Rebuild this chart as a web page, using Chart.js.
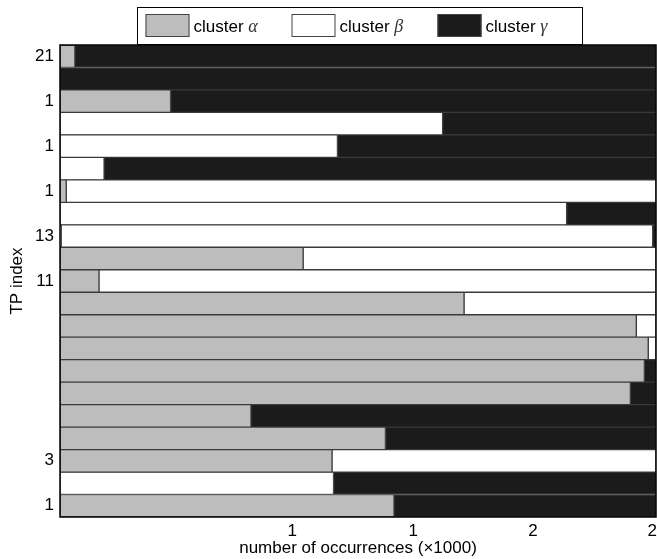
<!DOCTYPE html>
<html>
<head>
<meta charset="utf-8">
<script src="https://cdn.jsdelivr.net/npm/chart.js@4.4.1/dist/chart.umd.min.js"></script>
<style>
  html, body { margin: 0; padding: 0; background: #fff; }
  #wrap { width: 657px; height: 559px; position: relative; }
</style>
</head>
<body>
<div id="wrap"><canvas id="chart"></canvas></div>
<script>
// TP rows, top to bottom (only some rows carry a label)
const tpLabels = ['21', '', '1', '', '1', '', '1', '', '13', '', '11', '', '', '', '', '', '', '', '3', '', '1'];

// number of occurrences (x1000) per cluster
const alphaVals = [0.050, 0, 0.371, 0, 0, 0, 0.021, 0, 0.004, 0.816, 0.131, 1.356, 1.934, 1.974, 1.961, 1.914, 0.641, 1.092, 0.913, 0, 1.121];
const betaVals  = [0, 0, 0, 1.284, 0.931, 0.148, 1.979, 1.700, 1.985, 1.184, 1.869, 0.644, 0.066, 0.026, 0, 0, 0, 0, 1.087, 0.918, 0];
const gammaVals = [1.950, 2.0, 1.629, 0.716, 1.069, 1.852, 0, 0.300, 0.011, 0, 0, 0, 0, 0, 0.039, 0.086, 1.359, 0.908, 0, 1.082, 0.879];

const seriesNames = ['cluster α', 'cluster β', 'cluster γ'];
const seriesColors = ['#bdbdbd', '#ffffff', '#1b1b1b'];

const xMax = 2.0;
const xTickVals = [0.779, 1.185, 1.587, 1.987];

const FONT = '"Liberation Sans", Arial, sans-serif';

// legend drawn by hand so the greek letter can be in italic serif
const legendPlugin = {
  id: 'boxLegend',
  afterDraw(chart) {
    const ctx = chart.ctx;
    const left = 137.5, top = 7.5, w = 445, h = 37;
    ctx.save();
    ctx.fillStyle = '#fff';
    ctx.fillRect(left, top, w, h);
    ctx.strokeStyle = '#000';
    ctx.lineWidth = 1;
    ctx.strokeRect(left, top, w, h);
    seriesNames.forEach((name, i) => {
      const x = left + 8 + i * 146;
      ctx.fillStyle = seriesColors[i];
      ctx.fillRect(x, 14, 44, 23);
      ctx.strokeStyle = '#444';
      ctx.strokeRect(x + 0.5, 14.5, 43, 22);
      const word = name.slice(0, -1);
      const greek = name.slice(-1);
      ctx.fillStyle = '#000';
      ctx.textBaseline = 'alphabetic';
      ctx.font = '17px ' + FONT;
      ctx.fillText(word, x + 48, 32);
      const ww = ctx.measureText(word).width;
      ctx.font = 'italic 18px "Liberation Serif", serif';
      ctx.fillStyle = '#333';
      ctx.fillText(greek, x + 48 + ww, 32);
    });
    ctx.restore();
  }
};

const framePlugin = {
  id: 'frame',
  afterDatasetsDraw(chart) {
    const a = chart.chartArea;
    const ctx = chart.ctx;
    ctx.save();
    ctx.strokeStyle = '#000';
    ctx.lineWidth = 1.5;
    ctx.strokeRect(a.left, a.top, a.right - a.left, a.bottom - a.top);
    ctx.restore();
  }
};

const makeSet = (i, vals) => ({
  label: seriesNames[i],
  data: vals,
  backgroundColor: seriesColors[i],
  borderColor: '#3a3a3a',
  borderWidth: 1,
  borderSkipped: false,
  barPercentage: 1.0,
  categoryPercentage: 1.0
});

new Chart(document.getElementById('chart'), {
  type: 'bar',
  data: {
    labels: tpLabels,
    datasets: [makeSet(0, alphaVals), makeSet(1, betaVals), makeSet(2, gammaVals)]
  },
  options: {
    indexAxis: 'y',
    responsive: true,
    maintainAspectRatio: false,
    animation: false,
    layout: { padding: { top: 45, right: 1, left: 0, bottom: 0 } },
    plugins: { legend: { display: false }, tooltip: { enabled: false } },
    scales: {
      x: {
        stacked: true,
        min: 0,
        max: xMax,
        grid: { display: false, drawTicks: false },
        border: { display: false },
        afterBuildTicks(scale) { scale.ticks = xTickVals.map(v => ({ value: v })); },
        afterFit(scale) {
          scale.height = 42;
          scale.paddingLeft = 0;
          scale.paddingRight = 0;
        },
        ticks: {
          color: '#000',
          font: { family: FONT, size: 17 },
          padding: 4,
          maxRotation: 0,
          callback: v => String(Math.round(v))
        },
        title: {
          display: true,
          text: 'number of occurrences (×1000)',
          color: '#000',
          font: { family: FONT, size: 17 },
          padding: { top: 0, bottom: 0 }
        }
      },
      y: {
        stacked: true,
        grid: { display: false, drawTicks: false },
        border: { display: false },
        afterFit(scale) {
          scale.width = 60;
          scale.paddingTop = 0;
          scale.paddingBottom = 0;
        },
        ticks: {
          color: '#000',
          autoSkip: false,
          font: { family: FONT, size: 17 },
          padding: 6
        },
        title: {
          display: true,
          text: 'TP index',
          color: '#000',
          font: { family: FONT, size: 17 },
          padding: { top: 7, bottom: 0 }
        }
      }
    }
  },
  plugins: [framePlugin, legendPlugin]
});
</script>
</body>
</html>
